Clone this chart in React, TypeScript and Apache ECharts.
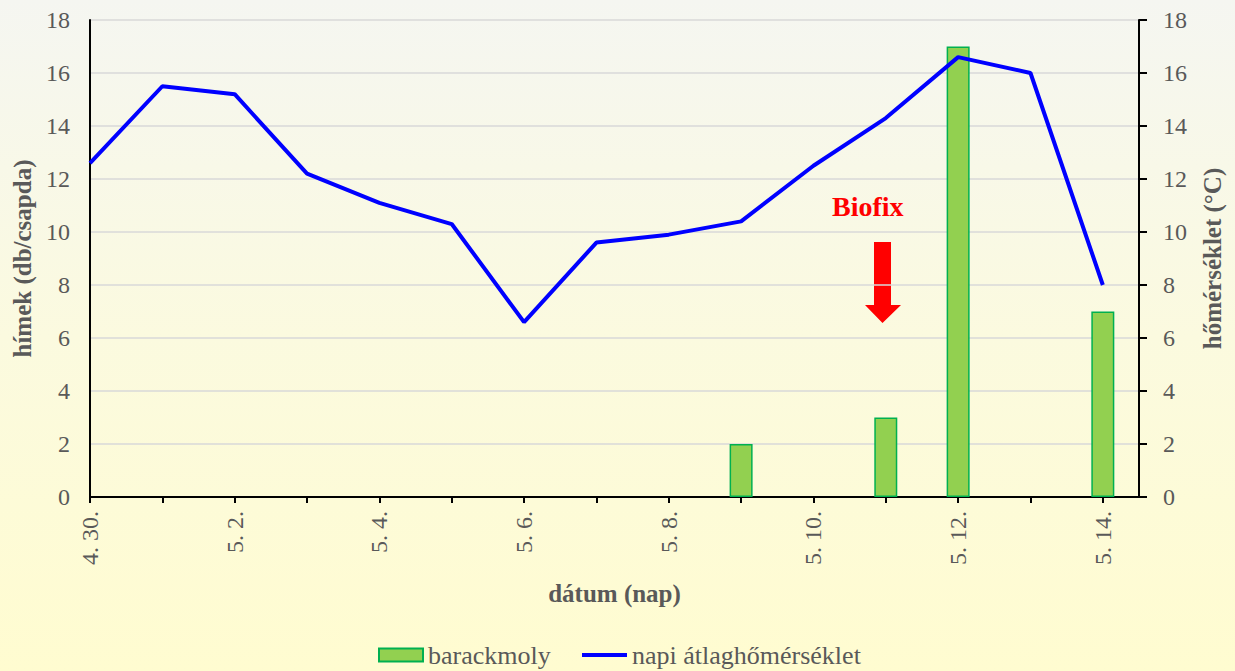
import React, { useEffect, useRef } from "react";
import * as echarts from "echarts";

const dates = ["4. 30.", "5. 1.", "5. 2.", "5. 3.", "5. 4.", "5. 5.", "5. 6.", "5. 7.", "5. 8.", "5. 9.", "5. 10.", "5. 11.", "5. 12.", "5. 13.", "5. 14."];
const mothCounts: (number | null)[] = [null, null, null, null, null, null, null, null, null, 2, null, 3, 17, null, 7];
const temperature = [12.6, 15.5, 15.2, 12.2, 11.1, 10.3, 6.6, 9.6, 9.9, 10.4, 12.5, 14.3, 16.6, 16.0, 8.0];
const labelDays = [0, 2, 4, 6, 8, 10, 12, 14];
const tickDays = dates.map((_, i) => i);

const FONT = "'Liberation Serif', 'Times New Roman', serif";
const GREY = "#595959";

export default function App() {
  const ref = useRef<HTMLDivElement>(null);
  useEffect(() => {
    if (!ref.current) return;
    const chart = echarts.init(ref.current, null, { renderer: "svg" });
    const legendText = { fontFamily: FONT, fontSize: 26, color: GREY };
    chart.setOption({
      animation: false,
      backgroundColor: {
        type: "linear", x: 0, y: 0, x2: 0, y2: 1,
        colorStops: [
          { offset: 0, color: "#f5f6f1" },
          { offset: 0.5, color: "#fbfadf" },
          { offset: 1, color: "#fffcd0" },
        ],
      },
      textStyle: { fontFamily: FONT },
      grid: { left: 90, right: 96, top: 20, bottom: 174, containLabel: false, outerBoundsMode: "none" },
      xAxis: {
        type: "value",
        min: 0,
        max: 14.5,
        interval: 1,
        name: "dátum (nap)",
        nameLocation: "middle",
        nameGap: 84,
        nameTextStyle: { fontFamily: FONT, fontSize: 25, fontWeight: "bold", color: GREY },
        axisLine: { show: true, onZero: false, lineStyle: { color: "#000", width: 2 } },
        axisTick: { show: true, length: 6, lineStyle: { color: "#000", width: 2 }, customValues: tickDays },
        axisLabel: {
          rotate: 90,
          margin: 14,
          fontFamily: FONT,
          fontSize: 24,
          color: GREY,
          customValues: labelDays,
          formatter: (v: number) => dates[Math.round(v)] ?? "",
        },
        splitLine: { show: false },
      },
      yAxis: [
        {
          type: "value",
          min: 0,
          max: 18,
          interval: 2,
          position: "left",
          name: "hímek (db/csapda)",
          nameLocation: "middle",
          nameGap: 52,
          nameTextStyle: { fontFamily: FONT, fontSize: 25, fontWeight: "bold", color: GREY },
          axisLine: { show: true, lineStyle: { color: "#000", width: 2 } },
          axisTick: { show: false },
          axisLabel: { margin: 20, fontFamily: FONT, fontSize: 24, color: GREY },
          splitLine: { show: true, lineStyle: { color: "#d9d9d9", width: 1.5 } },
        },
        {
          type: "value",
          min: 0,
          max: 18,
          interval: 2,
          position: "right",
          name: "hőmérséklet (°C)",
          nameLocation: "middle",
          nameGap: 61,
          nameRotate: 90,
          nameTextStyle: { fontFamily: FONT, fontSize: 25, fontWeight: "bold", color: GREY },
          axisLine: { show: true, lineStyle: { color: "#000", width: 2 } },
          axisTick: { show: true, length: 8, lineStyle: { color: "#000", width: 2 } },
          axisLabel: { margin: 24, fontFamily: FONT, fontSize: 24, color: GREY },
          splitLine: { show: false },
        },
      ],
      legend: [
        {
          left: 378,
          top: 642,
          padding: 0,
          itemWidth: 44,
          itemHeight: 13,
          textStyle: legendText,
          data: [{ name: "barackmoly", icon: "rect" }],
        },
        {
          left: 582,
          top: 642,
          padding: 0,
          itemWidth: 45,
          itemHeight: 4,
          textStyle: legendText,
          data: [{ name: "napi átlaghőmérséklet", icon: "rect", itemStyle: { color: "#0000ff" } }],
        },
      ],
      series: [
        {
          name: "barackmoly",
          type: "bar",
          yAxisIndex: 0,
          barWidth: 23,
          itemStyle: { color: "#92d050", borderColor: "#00b050", borderWidth: 1.5 },
          data: mothCounts.map((v, i) => [i, v]),
        },
        {
          name: "napi átlaghőmérséklet",
          type: "line",
          yAxisIndex: 1,
          symbol: "none",
          lineStyle: { color: "#0000ff", width: 4 },
          itemStyle: { color: "#0000ff" },
          data: temperature.map((v, i) => [i, v]),
        },
      ],
      graphic: [
        {
          type: "text",
          left: 832,
          top: 192,
          style: { text: "Biofix", fill: "#ff0000", font: `bold 28px ${FONT}` },
        },
        {
          type: "polygon",
          shape: {
            points: [
              [874, 242], [891, 242], [891, 305], [901, 305],
              [882.5, 323], [865, 305], [874, 305],
            ],
          },
          style: { fill: "#ff0000" },
        },
      ],
    });
    return () => chart.dispose();
  }, []);
  return (
    <div
      ref={ref}
      style={{ position: "absolute", left: 0, top: 0, width: 1235, height: 671 }}
    />
  );
}
